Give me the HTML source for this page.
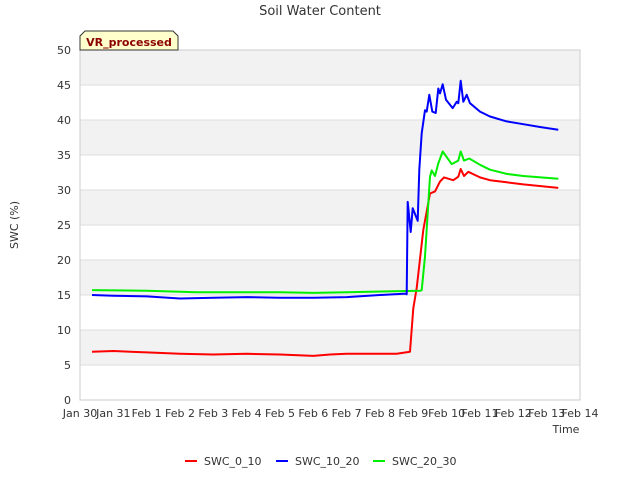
<!DOCTYPE html>
<html><head><meta charset="utf-8"><style>
body{margin:0;background:#fff;}
svg{display:block;font-family:"DejaVu Sans","Liberation Sans",sans-serif;}
</style></head><body>
<svg id="chart" width="640" height="480" viewBox="0 0 640 480">
<text x="320" y="15" text-anchor="middle" font-size="13" fill="#333">Soil Water Content</text>
<g id="bands"></g>
<g id="grid"></g>
<rect x="80" y="50" width="500" height="350" fill="none" stroke="#ccc"/>
<g id="yticks"></g>
<g id="xticks"></g>
<g id="series"></g>
<text transform="translate(18,225) rotate(-90)" text-anchor="middle" font-size="11" fill="#333">SWC (%)</text>
<text x="566" y="433" text-anchor="middle" font-size="11" fill="#333">Time</text>
<g>
<path d="M80,50 L80,36 L85,31 L173,31 L178,36 L178,50 Z" fill="#ffffcc" stroke="#333"/>
<text x="129" y="46" text-anchor="middle" font-size="11" font-weight="bold" fill="#8b0000">VR_processed</text>
</g>
<g>
<g><line x1="185" y1="461" x2="197" y2="461" stroke="#ff0000" stroke-width="2"/><text x="204" y="465" font-size="11" fill="#333">SWC_0_10</text></g>
<g><line x1="276" y1="461" x2="288" y2="461" stroke="#0000ff" stroke-width="2"/><text x="295" y="465" font-size="11" fill="#333">SWC_10_20</text></g>
<g><line x1="373" y1="461" x2="385" y2="461" stroke="#00ee00" stroke-width="2"/><text x="392" y="465" font-size="11" fill="#333">SWC_20_30</text></g>
</g>
</svg>
<script>
const xTickLabels=["Jan 30","Jan 31","Feb 1","Feb 2","Feb 3","Feb 4","Feb 5","Feb 6","Feb 7","Feb 8","Feb 9","Feb 10","Feb 11","Feb 12","Feb 13","Feb 14"];
const yTicks=[0,5,10,15,20,25,30,35,40,45,50];
const redDays=[0.36,1,2,3,4,5,6,7,7.5,8,9.5,9.9,10.0,10.1,10.3,10.5,10.65,10.8,10.92,11.2,11.35,11.42,11.52,11.65,12,12.3,12.8,13.3,14.35];
const redVals=[6.9,7.0,6.8,6.6,6.5,6.6,6.5,6.3,6.5,6.6,6.6,6.9,13.1,16,24.3,29.5,29.8,31.2,31.8,31.4,31.9,33,32,32.6,31.8,31.4,31.1,30.8,30.3];
const blueDays=[0.36,1,2,3,4,5,6,7,8,9,9.78,9.80,9.83,9.92,9.98,10.13,10.18,10.25,10.35,10.40,10.48,10.57,10.67,10.75,10.80,10.88,10.98,11.18,11.30,11.35,11.42,11.50,11.60,11.70,12.0,12.3,12.8,13.3,13.8,14.35];
const blueVals=[15.0,14.9,14.8,14.5,14.6,14.7,14.6,14.6,14.7,15.0,15.2,15.1,28.3,24,27.4,25.6,32.9,38.1,41.4,41.2,43.6,41.2,41,44.5,43.8,45.1,42.9,41.7,42.6,42.4,45.6,42.6,43.6,42.4,41.2,40.5,39.8,39.4,39,38.6];
const greenDays=[0.36,2,3.5,6,7,8,10.2,10.25,10.35,10.45,10.5,10.55,10.65,10.75,10.88,11.15,11.35,11.42,11.52,11.68,12,12.3,12.8,13.3,14.35];
const greenVals=[15.7,15.6,15.4,15.4,15.3,15.4,15.6,15.7,20.5,28.1,31.9,32.8,32,33.8,35.5,33.7,34.2,35.5,34.2,34.5,33.6,32.9,32.3,32,31.6];
const NS="http://www.w3.org/2000/svg";
const X0=80,X1=580,Y0=400,Y1=50;
function xs(d){return X0+d*(X1-X0)/15;}
function ys(v){return Y0-v*(Y0-Y1)/50;}
function mk(t,a,p){const e=document.createElementNS(NS,t);for(const k in a)e.setAttribute(k,a[k]);p.appendChild(e);return e;}
const bands=document.getElementById('bands'),grid=document.getElementById('grid'),yt=document.getElementById('yticks'),xt=document.getElementById('xticks'),ser=document.getElementById('series');
for(let i=0;i<yTicks.length-1;i++){
  if(i%2===1){const r=mk('rect',{x:X0,y:ys(yTicks[i+1]),width:X1-X0,height:ys(yTicks[i])-ys(yTicks[i+1]),fill:'#f2f2f2'},bands);
  
  }
}
yTicks.forEach(v=>{
  const l=mk('line',{x1:X0,x2:X1,y1:ys(v),y2:ys(v),stroke:'#dddddd'},grid);
  
  
  const t=mk('text',{x:71,y:ys(v)+4,'text-anchor':'end','font-size':'11',fill:'#333'},yt);
  t.textContent=v;
  
  
});
xTickLabels.forEach((s,i)=>{
  const t=mk('text',{x:xs(i),y:417,'text-anchor':'middle','font-size':'11',fill:'#333'},xt);
  t.textContent=s;
  
  
});
function line(days,vals,color,name){
  const pts=days.map((d,i)=>xs(d).toFixed(1)+','+ys(vals[i]).toFixed(1)).join(' ');
  const p=mk('polyline',{points:pts,fill:'none',stroke:color,'stroke-width':'2','stroke-linejoin':'round'},ser);
  
  
}
line(redDays,redVals,'#ff0000','series-swc-0-10');
line(greenDays,greenVals,'#00ee00','series-swc-20-30');
line(blueDays,blueVals,'#0000ff','series-swc-10-20');
</script>
</body></html>
